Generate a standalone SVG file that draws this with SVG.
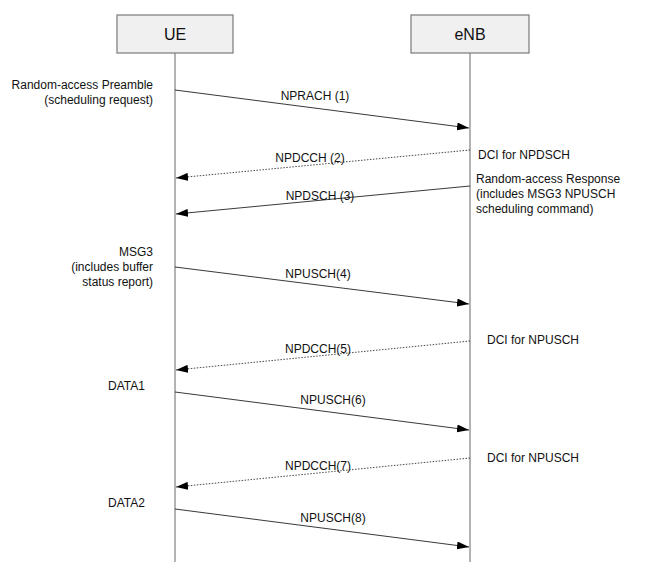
<svg xmlns="http://www.w3.org/2000/svg" width="649" height="586" viewBox="0 0 649 586">
<style>
.box{fill:#f0f0f0;stroke:#7a7a7a;stroke-width:1.2}
.life{stroke:#808080;stroke-width:1.2;fill:none}
.msg{stroke:#222;stroke-width:0.9;fill:none}
.dot{stroke:#333;stroke-width:0.9;fill:none;stroke-dasharray:1.5,1.5}
text{font-family:"Liberation Sans",Arial,sans-serif;font-size:12px;fill:#111}
.hd{font-size:16px}
.r{text-anchor:end}
.m{text-anchor:middle}
</style>
<defs>
<marker id="ah" viewBox="0 0 12 8" refX="12" refY="4" markerWidth="12" markerHeight="8" markerUnits="userSpaceOnUse" orient="auto">
<path d="M0,0 L12,4 L0,8 Z" fill="#000"/>
</marker>
</defs>
<g id="UE">
<rect class="box" x="117" y="15" width="116" height="38"/>
<text class="hd m" x="175" y="40">UE</text>
<line class="life" x1="175" y1="53" x2="175" y2="562"/>
</g>
<g id="eNB">
<rect class="box" x="411" y="15" width="118" height="38"/>
<text class="hd m" x="470" y="40">eNB</text>
<line class="life" x1="470" y1="53" x2="470" y2="562"/>
</g>
<g id="connectors">
<line class="msg" x1="175" y1="90" x2="469" y2="128" marker-end="url(#ah)"/>
<line class="dot" x1="470" y1="150" x2="176" y2="178" marker-end="url(#ah)"/>
<line class="msg" x1="470" y1="186" x2="176" y2="214" marker-end="url(#ah)"/>
<line class="msg" x1="175" y1="267" x2="469" y2="304" marker-end="url(#ah)"/>
<line class="dot" x1="470" y1="341" x2="176" y2="370" marker-end="url(#ah)"/>
<line class="msg" x1="175" y1="392" x2="469" y2="430" marker-end="url(#ah)"/>
<line class="dot" x1="470" y1="458" x2="176" y2="487" marker-end="url(#ah)"/>
<line class="msg" x1="175" y1="509" x2="469" y2="547" marker-end="url(#ah)"/>
</g>
<g id="labels">
<text class="m" x="315" y="100">NPRACH (1)</text>
<text class="m" x="310" y="162">NPDCCH (2)</text>
<text class="m" x="320" y="200">NPDSCH (3)</text>
<text class="m" x="318" y="278">NPUSCH(4)</text>
<text class="m" x="318" y="353">NPDCCH(5)</text>
<text class="m" x="333" y="404">NPUSCH(6)</text>
<text class="m" x="318" y="470">NPDCCH(7)</text>
<text class="m" x="333" y="522">NPUSCH(8)</text>
<text class="r" x="153" y="89">Random-access Preamble</text>
<text class="r" x="153" y="104">(scheduling request)</text>
<text x="478" y="159">DCI for NPDSCH</text>
<text x="476" y="183">Random-access Response</text>
<text x="476" y="198">(includes MSG3 NPUSCH</text>
<text x="476" y="213">scheduling command)</text>
<text class="r" x="153" y="256">MSG3</text>
<text class="r" x="153" y="271">(includes buffer</text>
<text class="r" x="153" y="286">status report)</text>
<text x="487" y="344">DCI for NPUSCH</text>
<text x="108" y="390">DATA1</text>
<text x="487" y="462">DCI for NPUSCH</text>
<text x="108" y="507">DATA2</text>
</g>
</svg>
